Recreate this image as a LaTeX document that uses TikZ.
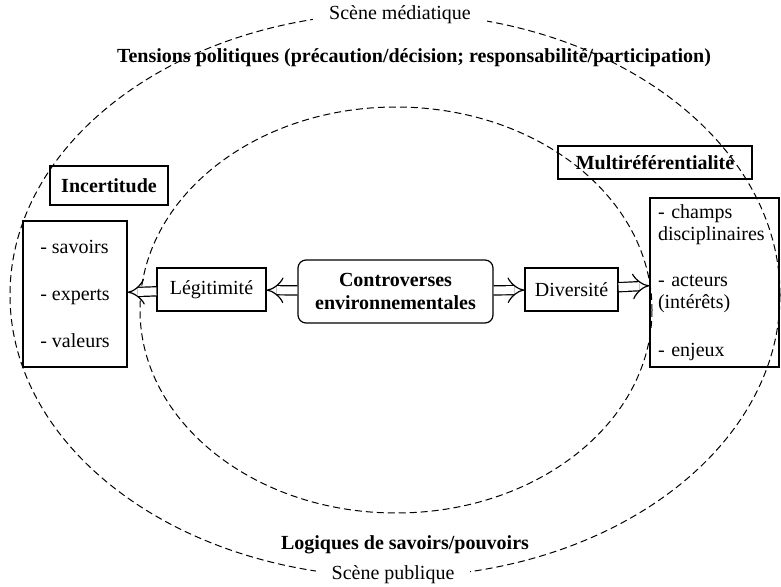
\documentclass[tikz,border=0pt]{standalone}
\usepackage{fontspec}
\setmainfont{Liberation Serif}
\usetikzlibrary{arrows.meta}
\begin{document}
\begin{tikzpicture}[x=1pt,y=-1pt,
    every node/.style={font=\fontsize{20}{22}\selectfont},
    box/.style={draw,line width=1.2pt,inner sep=0pt},
    zone/.style={dash pattern=on 7pt off 4pt,line width=1pt},
    arr/.style={draw,double,double distance=8pt,line width=1.2pt,-{Implies[length=9pt,width=22pt]}}]
        \useasboundingbox (0,0) rectangle (781,586);

        % scenes
        \draw[zone] (395,295) ellipse [x radius=385, y radius=282];
        \draw[zone] (396,310) ellipse [x radius=256, y radius=203];

        \node[fill=white,inner xsep=16pt,inner ysep=6pt] (med) at (400,15)  {Scène médiatique};
        \node[fill=white,inner xsep=16pt,inner ysep=6pt] (pub) at (393,575) {Scène publique};
        \node[font=\fontsize{20}{22}\selectfont\bfseries] (ten) at (414,58)  {Tensions politiques (précaution/décision; responsabilité/participation)};
        \node[font=\fontsize{20}{22}\selectfont\bfseries] (log) at (405,545) {Logiques de savoirs/pouvoirs};

        \node[box,rounded corners=8pt,minimum width=195pt,minimum height=63pt,align=center,font=\fontsize{20}{23}\selectfont\bfseries] (ctrl) at (395.5,291.5) {Controverses\\environnementales};
        \node[box,minimum width=109pt,minimum height=43pt] (leg) at (211.5,289.5) {Légitimité};
        \node[box,minimum width=93pt,minimum height=43pt]  (div) at (571.5,289.5) {Diversité};

        \node[box,minimum width=118pt,minimum height=39pt,font=\fontsize{20}{22}\selectfont\bfseries] (inc) at (109,185.5) {Incertitude};
        \node[box,minimum width=194pt,minimum height=33pt,font=\fontsize{20}{22}\selectfont\bfseries] (mul) at (655,162.5) {Multiréférentialité};

        \node[box,minimum width=104pt,minimum height=146pt,align=left] (sav) at (75,294) {- savoirs\\[25pt]- experts\\[25pt]- valeurs};
        \node[box,minimum width=129pt,minimum height=169pt,align=left,text width=113pt] (cha) at (714.5,282.5) {- champs\\disciplinaires\\[24pt]- acteurs\\(intérêts)\\[26pt]- enjeux};

        \draw [arr] (ctrl) -- (leg);
        \draw [arr] (leg)  -- (sav);
        \draw [arr] (ctrl) -- (div);
        \draw [arr] (div)  -- (cha);
    \end{tikzpicture}
\end{document}
